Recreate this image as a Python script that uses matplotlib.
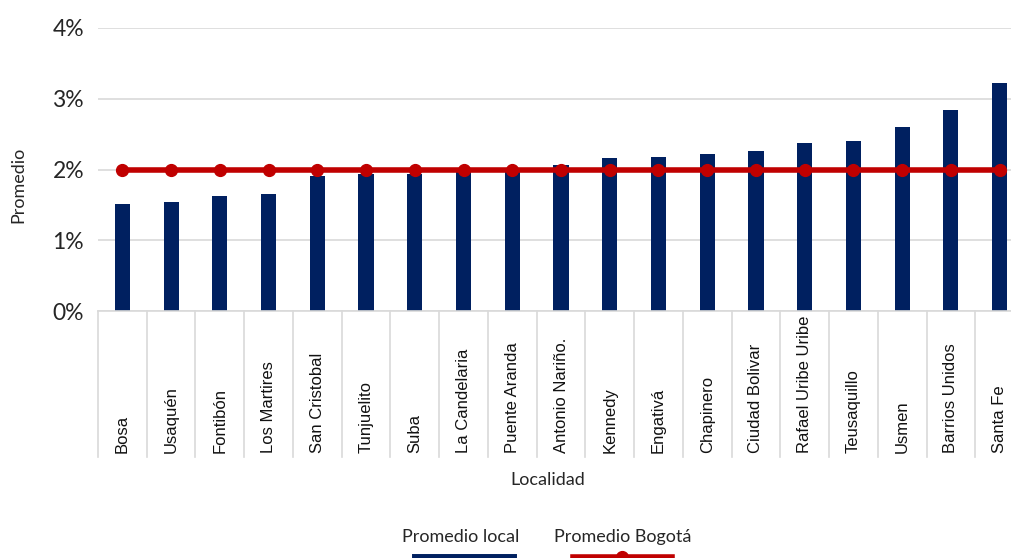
import matplotlib.pyplot as plt
import numpy as np
from matplotlib.lines import Line2D
from matplotlib.ticker import FuncFormatter

localidades = ['Bosa', 'Usaquén', 'Fontibón', 'Los Martires', 'San Cristobal',
               'Tunjuelito', 'Suba', 'La Candelaria', 'Puente Aranda',
               'Antonio Nariño.', 'Kennedy', 'Engativá', 'Chapinero',
               'Ciudad Bolivar', 'Rafael Uribe Uribe', 'Teusaquillo', 'Usmen',
               'Barrios Unidos', 'Santa Fe']
promedio_local = [1.51, 1.54, 1.62, 1.65, 1.91, 1.93, 1.93, 1.99, 2.00,
                  2.07, 2.16, 2.18, 2.22, 2.26, 2.38, 2.40, 2.60, 2.84, 3.22]
promedio_bogota = [2.0] * len(localidades)
yticks = [0, 1, 2, 3, 4]

navy = '#002060'
red = '#C00000'
grid_c = '#D9D9D9'
txt_c = '#262626'
sans = ['Lato', 'DejaVu Sans']
arial = ['Liberation Sans', 'DejaVu Sans']

fig = plt.figure(figsize=(10.11, 5.58), dpi=100)
W, H = 1011, 558
# axes from x=98..1024 px (last column is cut by the figure edge), y=28..311 px
ax = fig.add_axes([98 / W, (H - 311) / H, 926 / W, 283 / H])

x = np.arange(len(localidades))
ax.bar(x, promedio_local, width=0.31, color=navy, zorder=2)
ax.plot(x, promedio_bogota, color=red, lw=4, marker='o', ms=8.5, zorder=3)

ax.set_xlim(-0.5, len(localidades) - 0.5)
ax.set_ylim(0, 4)
ax.set_yticks(yticks)
ax.yaxis.set_major_formatter(FuncFormatter(lambda v, p: '%d%%' % v))
ax.tick_params(axis='y', length=0, pad=10, labelsize=16.5, labelcolor=txt_c)
for t in ax.get_yticklabels():
    t.set_family(sans)
ax.set_xticks([])
ax.grid(axis='y', color=grid_c, lw=1.2, zorder=0)
for s in ['top', 'right', 'left']:
    ax.spines[s].set_visible(False)
ax.spines['bottom'].set_color(grid_c)
ax.spines['bottom'].set_linewidth(1.2)

# category table below axis
tr = ax.get_xaxis_transform()
y_low = (311 - 457) / 283
for b in np.arange(-0.5, len(localidades), 1.0):
    ax.plot([b, b], [0, y_low], color=grid_c, lw=1.2, transform=tr, clip_on=False)
for i, name in enumerate(localidades):
    ax.text(i, (311 - 453) / 283, name, rotation=90, ha='center', va='bottom',
            transform=tr, fontsize=12, family=arial, color='#111111')

lab = dict(fontsize=13, family=sans, color=txt_c)
fig.text(18 / W, 1 - 185 / H, 'Promedio', rotation=90, ha='center', va='center', **lab)
fig.text(548 / W, 1 - 480 / H, 'Localidad', ha='center', va='center', **lab)

# legend: label above swatch
fig.text(461 / W, 1 - 537 / H, 'Promedio local', ha='center', va='center', **lab)
fig.text(623 / W, 1 - 537 / H, 'Promedio Bogotá', ha='center', va='center', **lab)
fig.add_artist(Line2D([415 / W, 513 / W], [1 - 557 / H, 1 - 557 / H],
                      color=navy, lw=5, transform=fig.transFigure))
fig.add_artist(Line2D([573 / W, 672 / W], [1 - 557 / H, 1 - 557 / H],
                      color=red, lw=4, transform=fig.transFigure))
fig.add_artist(Line2D([622 / W], [1 - 557 / H], color=red, marker='o', ms=8.5,
                      transform=fig.transFigure))

fig.savefig('out.png', dpi=100)
